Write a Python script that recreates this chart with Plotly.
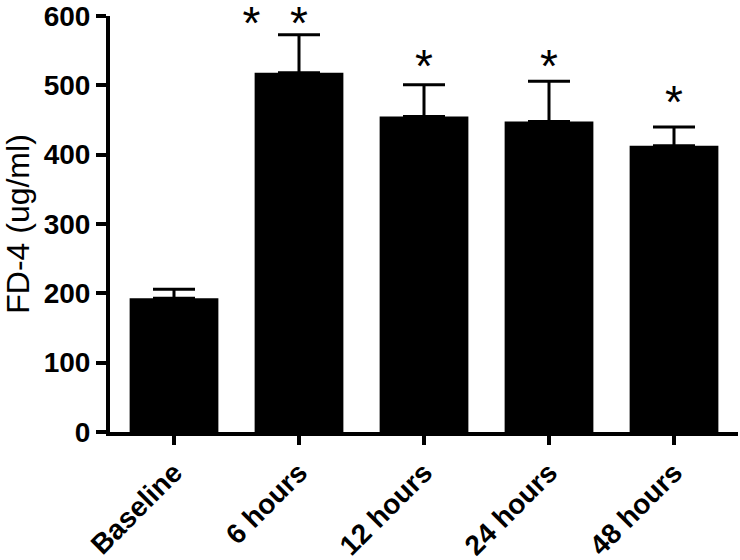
import plotly.graph_objects as go

groups = ["Baseline", "6 hours", "12 hours", "24 hours", "48 hours"]
means = [193, 518, 455, 448, 413]
sem = [13, 55, 46, 58, 27]

# significance markers (asterisk positions in data units)
stars_x = [0.62, 1.0, 2.0, 3.0, 4.0]
stars_y = [584, 584, 521, 521, 470]

fig = go.Figure()
fig.add_trace(go.Bar(
    x=list(range(len(groups))),
    y=means,
    width=0.71,
    marker=dict(color="black", line=dict(width=0)),
    error_y=dict(type="data", array=sem, symmetric=False, arrayminus=[0] * len(sem),
                 color="black", thickness=3, width=21),
))
fig.add_trace(go.Scatter(
    x=stars_x, y=stars_y, mode="text", text=["*"] * len(stars_x),
    textposition="middle center", cliponaxis=False, hoverinfo="skip",
    textfont=dict(size=46, color="black", family="Liberation Sans"),
))

fig.update_layout(
    width=740, height=560,
    margin=dict(l=110, r=2, t=16, b=128),
    plot_bgcolor="white", paper_bgcolor="white",
    showlegend=False,
    font=dict(family="Liberation Sans", color="black"),
)
fig.update_xaxes(
    range=[-0.512, 4.512], automargin=False,
    tickmode="array", tickvals=list(range(len(groups))),
    ticktext=["<b>%s</b>" % g for g in groups],
    tickangle=-45, tickfont=dict(size=28),
    showline=True, linecolor="black", linewidth=4,
    ticks="outside", ticklen=9, tickwidth=4, tickcolor="black",
    showgrid=False, zeroline=False,
)
fig.update_yaxes(
    range=[0, 600], automargin=False,
    tickvals=[0, 100, 200, 300, 400, 500, 600],
    ticktext=["<b>%d</b>" % v for v in [0, 100, 200, 300, 400, 500, 600]],
    tickfont=dict(size=28), ticklabeloverflow="allow",
    title=dict(text="FD-4 (ug/ml)", font=dict(size=32), standoff=26),
    showline=True, linecolor="black", linewidth=4,
    ticks="outside", ticklen=10, tickwidth=4, tickcolor="black",
    showgrid=False, zeroline=False,
)

# drop the default 8px page margin so the figure sits at the window corner
fig.write_html("out.html", config={"displayModeBar": False},
               post_script="document.body.style.margin = '0';")
